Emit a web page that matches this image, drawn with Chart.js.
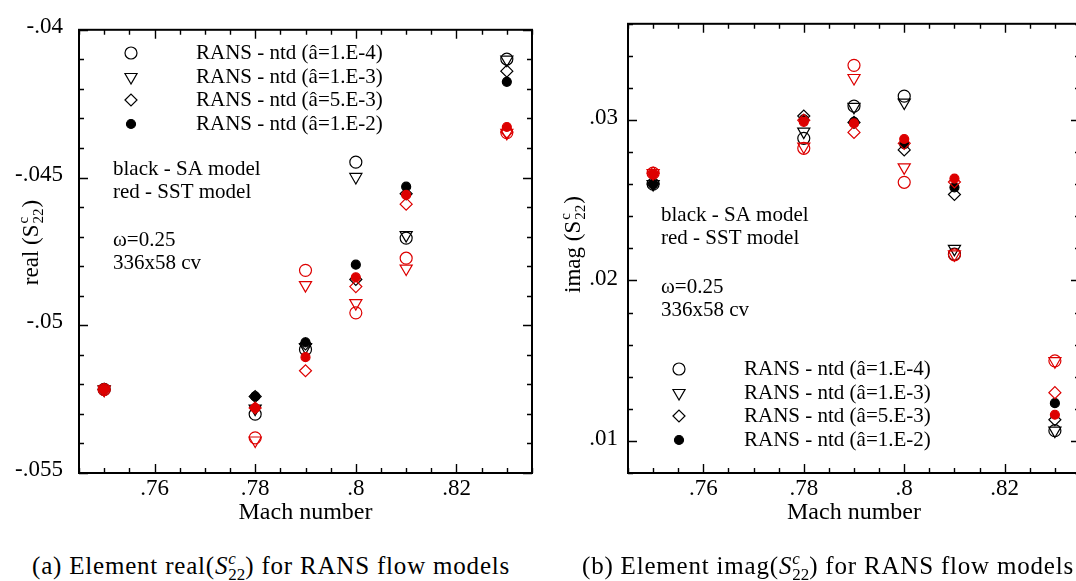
<!DOCTYPE html>
<html>
<head>
<meta charset="utf-8">
<script src="https://cdn.jsdelivr.net/npm/chart.js@4.4.1/dist/chart.umd.min.js"></script>
<style>
  html, body { margin: 0; padding: 0; background: #fff; overflow: hidden; }
  #wrap { position: relative; width: 1076px; height: 581px; overflow: hidden; }
  canvas { position: absolute; top: 0; }
  #chartA { left: 0; }
  #chartB { left: 540px; }
  .cap { position: absolute; top: 551px; font-family: "Liberation Serif", serif; font-size: 25px; color: #000; white-space: nowrap; letter-spacing: 0.8px; }
  .ss { display: inline-block; vertical-align: -0.38em; font-size: 0.68em; line-height: 0.95; text-align: left; letter-spacing: 0; }
  .ss span { display: block; }
</style>
</head>
<body>
<div id="wrap">
  <canvas id="chartA" width="545" height="545"></canvas>
  <canvas id="chartB" width="560" height="545"></canvas>
  <div class="cap" style="left:32px">(a) Element real(<i>S</i><span class="ss"><span><i>c</i></span><span>22</span></span>) for RANS flow models</div>
  <div class="cap" style="left:582px">(b) Element imag(<i>S</i><span class="ss"><span><i>c</i></span><span>22</span></span>) for RANS flow models</div>
</div>
<script>
// Mach numbers
const mach = [0.75, 0.78, 0.79, 0.80, 0.81, 0.83];
const seriesNames = ["RANS - ntd (â=1.E-4)", "RANS - ntd (â=1.E-3)", "RANS - ntd (â=5.E-3)", "RANS - ntd (â=1.E-2)"];

// real(S22c), SA model (black)
const realSA_1e4 = [-0.05217, -0.05301, -0.05082, -0.04448, -0.04705, -0.04099];
const realSA_1e3 = [-0.05217, -0.05282, -0.05074, -0.04498, -0.04695, -0.04101];
const realSA_5e3 = [-0.05217, -0.05241, -0.05063, -0.04845, -0.04555, -0.04140];
const realSA_1e2 = [-0.05217, -0.05241, -0.05058, -0.04795, -0.04531, -0.04176];
// real(S22c), SST model (red)
const realSST_1e4 = [-0.05218, -0.05381, -0.04814, -0.04958, -0.04773, -0.04348];
const realSST_1e3 = [-0.05218, -0.05390, -0.04864, -0.04925, -0.04808, -0.04349];
const realSST_5e3 = [-0.05218, -0.05280, -0.05154, -0.04869, -0.04590, -0.04346];
const realSST_1e2 = [-0.05218, -0.05280, -0.05108, -0.04838, -0.04559, -0.04329];

// imag(S22c), SA model (black)
const imagSA_1e4 = [0.02601, 0.02886, 0.03087, 0.03149, 0.02164, 0.01064];
const imagSA_1e3 = [0.02601, 0.02928, 0.03082, 0.03109, 0.02197, 0.01064];
const imagSA_5e3 = [0.02601, 0.03025, 0.02985, 0.02814, 0.02536, 0.01132];
const imagSA_1e2 = [0.02601, 0.03004, 0.02989, 0.02850, 0.02581, 0.01235];
// imag(S22c), SST model (red)
const imagSST_1e4 = [0.02669, 0.02824, 0.03341, 0.02612, 0.02160, 0.01499];
const imagSST_1e3 = [0.02669, 0.02835, 0.03262, 0.02705, 0.02163, 0.01497];
const imagSST_5e3 = [0.02669, 0.02999, 0.02923, 0.02855, 0.02614, 0.01301];
const imagSST_1e2 = [0.02662, 0.02989, 0.02979, 0.02882, 0.02635, 0.01163];

// ticks
const xTickValues = [0.76, 0.78, 0.80, 0.82];
const xTickLabels = [".76", ".78", ".8", ".82"];
const realTickValues = [-0.055, -0.05, -0.045, -0.04];
const realTickLabels = ["-.055", "-.05", "-.045", "-.04"];
const imagTickValues = [0.01, 0.02, 0.03];
const imagTickLabels = [".01", ".02", ".03"];

const BLACK = "#000000";
const RED = "#dd0000";
const SERIF = "'Liberation Serif', 'Times New Roman', serif";

const markers = [
  { pointStyle: "circle", radius: 6, rotation: 0, filled: false },
  { pointStyle: "triangle", radius: 7, rotation: 180, filled: false },
  { pointStyle: "rectRot", radius: 6, rotation: 0, filled: false },
  { pointStyle: "circle", radius: 4.5, rotation: 0, filled: true },
];

function makeDatasets(saList, sstList) {
  const sets = [];
  const add = (list, color, tag) => {
    list.forEach((vals, i) => {
      const m = markers[i];
      sets.push({
        label: tag + " " + seriesNames[i],
        data: mach.map((x, k) => ({ x: x, y: vals[k] })),
        showLine: false,
        pointStyle: m.pointStyle,
        pointRadius: m.radius,
        pointRotation: m.rotation,
        pointBorderWidth: 1.2,
        pointBorderColor: color,
        pointBackgroundColor: m.filled ? color : "rgba(0,0,0,0)",
        pointHoverRadius: m.radius,
      });
    });
  };
  add(saList, BLACK, "SA");
  add(sstList, RED, "SST");
  // first dataset is drawn on top: put red, and dots, on top
  return sets.reverse();
}

function drawTitle(ctx, cx, cy, word) {
  ctx.save();
  ctx.translate(cx, cy);
  ctx.rotate(-Math.PI / 2);
  ctx.fillStyle = "#000";
  ctx.textBaseline = "middle";
  ctx.textAlign = "left";
  const big = "23px " + SERIF, small = "15px " + SERIF;
  ctx.font = big;
  const w1 = ctx.measureText(word + " (S").width;
  const w3 = ctx.measureText(")").width;
  ctx.font = small;
  const w2 = Math.max(ctx.measureText("c").width, ctx.measureText("22").width) + 1;
  let x = -(w1 + w2 + w3) / 2;
  ctx.font = big;
  ctx.fillText(word + " (S", x, 0);
  x += w1 + 1;
  ctx.font = small;
  ctx.fillText("c", x, -8);
  ctx.fillText("22", x, 7);
  x += w2;
  ctx.font = big;
  ctx.fillText(")", x, 0);
  ctx.restore();
}

function decor(o) {
  return {
    id: "decor",
    beforeDatasetsDraw(chart) {
      const ctx = chart.ctx, a = chart.chartArea;
      const xs = chart.scales.x, ys = chart.scales.y;
      ctx.save();
      ctx.strokeStyle = "#000";
      ctx.lineWidth = 1.4;
      ctx.beginPath();
      const xTick = (v, len) => {
        const p = Math.round(xs.getPixelForValue(v)) + 0.5;
        ctx.moveTo(p, a.bottom); ctx.lineTo(p, a.bottom - len);
        ctx.moveTo(p, a.top); ctx.lineTo(p, a.top + len);
      };
      const yTick = (v, len) => {
        const p = Math.round(ys.getPixelForValue(v)) + 0.5;
        ctx.moveTo(a.left, p); ctx.lineTo(a.left + len, p);
        ctx.moveTo(a.right, p); ctx.lineTo(a.right - len, p);
      };
      for (let k = 0; o.xMinor.start + k * o.xMinor.step <= xs.max + 1e-9; k++) xTick(o.xMinor.start + k * o.xMinor.step, 5);
      for (let k = 0; o.yMinor.start + k * o.yMinor.step <= ys.max + 1e-9; k++) yTick(o.yMinor.start + k * o.yMinor.step, 5);
      xTickValues.forEach(v => xTick(v, 9));
      o.yMajor.forEach(v => yTick(v, 9));
      ctx.stroke();
      ctx.lineWidth = 2;
      ctx.strokeRect(a.left, a.top, a.right - a.left, a.bottom - a.top);
      ctx.restore();
    },
    afterDraw(chart) {
      const ctx = chart.ctx;
      ctx.save();
      ctx.font = "21px " + SERIF;
      ctx.fillStyle = "#000";
      ctx.textBaseline = "middle";
      ctx.textAlign = "left";
      o.notes.forEach(n => ctx.fillText(n.text, n.x, n.y));
      seriesNames.forEach((name, i) => {
        const m = markers[i];
        const y = o.legend.y[i];
        ctx.fillText(name, o.legend.textX, y);
        ctx.strokeStyle = BLACK;
        ctx.lineWidth = 1.2;
        ctx.fillStyle = m.filled ? BLACK : "rgba(0,0,0,0)";
        Chart.helpers.drawPoint(ctx, { pointStyle: m.pointStyle, radius: m.radius, rotation: m.rotation, borderWidth: 1.2 }, o.legend.markX, y);
        ctx.fillStyle = "#000";
      });
      drawTitle(ctx, o.title.x, o.title.y, o.title.word);
      ctx.restore();
    },
  };
}

function makeChart(id, opts) {
  const ctx = document.getElementById(id).getContext("2d");
  const config = {
    type: "scatter",
    data: { datasets: opts.datasets },
    options: {
      responsive: false,
      animation: false,
      devicePixelRatio: 1,
      layout: { padding: opts.padding },
      plugins: { legend: { display: false }, tooltip: { enabled: false }, title: { display: false } },
      scales: {
        x: {
          type: "linear",
          min: 0.745,
          max: 0.835,
          afterBuildTicks: s => { s.ticks = xTickValues.map(v => ({ value: v })); },
          afterFit: s => { s.height = opts.xHeight; },
          ticks: {
            color: "#000",
            font: { family: SERIF, size: 23 },
            padding: 2,
            maxRotation: 0,
            callback: (v, i) => xTickLabels[i],
          },
          grid: { display: false, drawTicks: false },
          border: { display: false },
          title: {
            display: true,
            text: "Mach number",
            color: "#000",
            font: { family: SERIF, size: 24 },
            padding: { top: 0, bottom: opts.xTitlePad },
          },
        },
        y: {
          type: "linear",
          min: opts.yMin,
          max: opts.yMax,
          afterBuildTicks: s => { s.ticks = opts.yTicks.map(v => ({ value: v })); },
          afterFit: s => { s.width = opts.yWidth; },
          ticks: {
            color: "#000",
            font: { family: SERIF, size: 23 },
            padding: opts.yPad,
            labelOffset: opts.yLabelOffset,
            callback: (v, i) => opts.yLabels[i],
          },
          grid: { display: false, drawTicks: false },
          border: { display: false },
        },
      },
    },
    plugins: [decor(opts.decor)],
  };
  return new Chart(ctx, config);
}

makeChart("chartA", {
  datasets: makeDatasets([realSA_1e4, realSA_1e3, realSA_5e3, realSA_1e2], [realSST_1e4, realSST_1e3, realSST_5e3, realSST_1e2]),
  padding: { left: 0, top: 22, right: 13, bottom: 0 },
  xHeight: 72, yWidth: 79, yPad: 16, yLabelOffset: -3, xTitlePad: 18,
  yMin: -0.055, yMax: -0.04,
  yTicks: realTickValues, yLabels: realTickLabels,
  decor: {
    xMinor: { start: 0.745, step: 0.005 },
    yMinor: { start: -0.055, step: 0.001 },
    yMajor: realTickValues,
    notes: [
      { text: "black - SA model", x: 113, y: 169 },
      { text: "red - SST model", x: 113, y: 192 },
      { text: "ω=0.25", x: 113, y: 240 },
      { text: "336x58 cv", x: 113, y: 263 },
    ],
    legend: { markX: 131, textX: 196, y: [53, 77, 100, 124] },
    title: { x: 32, y: 243, word: "real" },
  },
});

makeChart("chartB", {
  datasets: makeDatasets([imagSA_1e4, imagSA_1e3, imagSA_5e3, imagSA_1e2], [imagSST_1e4, imagSST_1e3, imagSST_5e3, imagSST_1e2]),
  padding: { left: 0, top: 22, right: 20, bottom: 0 },
  xHeight: 72, yWidth: 88, yPad: 10, yLabelOffset: -2, xTitlePad: 18,
  yMin: 0.008, yMax: 0.036,
  yTicks: imagTickValues, yLabels: imagTickLabels,
  decor: {
    xMinor: { start: 0.745, step: 0.005 },
    yMinor: { start: 0.008, step: 0.002 },
    yMajor: imagTickValues,
    notes: [
      { text: "black - SA model", x: 121, y: 215 },
      { text: "red - SST model", x: 121, y: 238 },
      { text: "ω=0.25", x: 121, y: 287 },
      { text: "336x58 cv", x: 121, y: 310 },
    ],
    legend: { markX: 139, textX: 204, y: [369, 393, 416, 440] },
    title: { x: 34, y: 245, word: "imag" },
  },
});
</script>
</body>
</html>
